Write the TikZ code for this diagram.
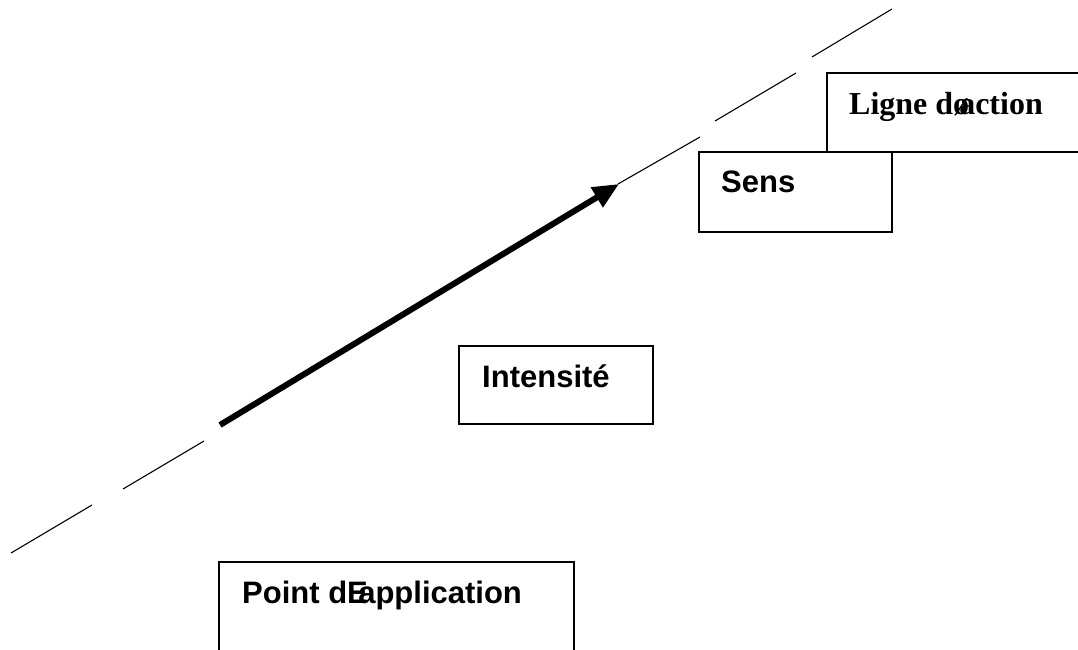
\documentclass[tikz,border=0pt]{standalone}
\usepackage{fontspec}
\setmainfont{Liberation Serif}
\newfontfamily\arialf{Liberation Sans}
\usetikzlibrary{arrows.meta}
\tikzset{
  box/.style={draw=black, line width=1.5pt, fill=white},
  lbl/.style={anchor=base west, inner sep=0pt, font=\arialf\bfseries\fontsize{31}{36}\selectfont},
  lblserif/.style={anchor=base west, inner sep=0pt, font=\rmfamily\bfseries\fontsize{32}{38}\selectfont},
  actline/.style={line width=1.1pt, black},
  force/.style={line width=6pt, -{Triangle[length=26pt,width=22pt]}},
}
\begin{document}
\begin{tikzpicture}[x=1pt,y=-1pt]
\useasboundingbox (0,0) rectangle (1078,650);
\clip (0,0) rectangle (1078,650);
\fill[white] (0,0) rectangle (1078,650);
% line of action (dash segments)
\coordinate (d1a) at (11,553); \coordinate (d1b) at (92,505);
\coordinate (d2a) at (123,489); \coordinate (d2b) at (204,441);
\coordinate (d3a) at (618,184); \coordinate (d3b) at (700,137);
\coordinate (d4a) at (715,121); \coordinate (d4b) at (796,73);
\coordinate (d5a) at (812,57); \coordinate (d5b) at (892,9);
\draw[actline] (d1a) -- (d1b);
\draw[actline] (d2a) -- (d2b);
\draw[actline] (d3a) -- (d3b);
\draw[actline] (d4a) -- (d4b);
\draw[actline] (d5a) -- (d5b);
% force vector
\coordinate (fa) at (220,425);
\coordinate (fb) at (619,184);
\draw[force] (fa) -- (fb);
% boxes
\path[box] (827,73) rectangle (1090,152);
\coordinate (ligneBox) at (827,73);
\path[box] (699,152) rectangle (892,232);
\coordinate (sensBox) at (699,152);
\path[box] (459,346) rectangle (653,424);
\coordinate (intBox) at (459,346);
\path[box] (219,562) rectangle (574,660);
\coordinate (ptBox) at (219,562);
% labels
\node[lblserif] (ligne) at (849,115) {Ligne d\rlap{ø}\kern6pt action};
\node[lbl] (sens) at (721,192) {Sens};
\node[lbl] (int) at (482,387) {Intensité};
\node[lbl] (pt) at (242,603) {Point d\rlap{E}\kern11pt application};
\end{tikzpicture}
\end{document}
